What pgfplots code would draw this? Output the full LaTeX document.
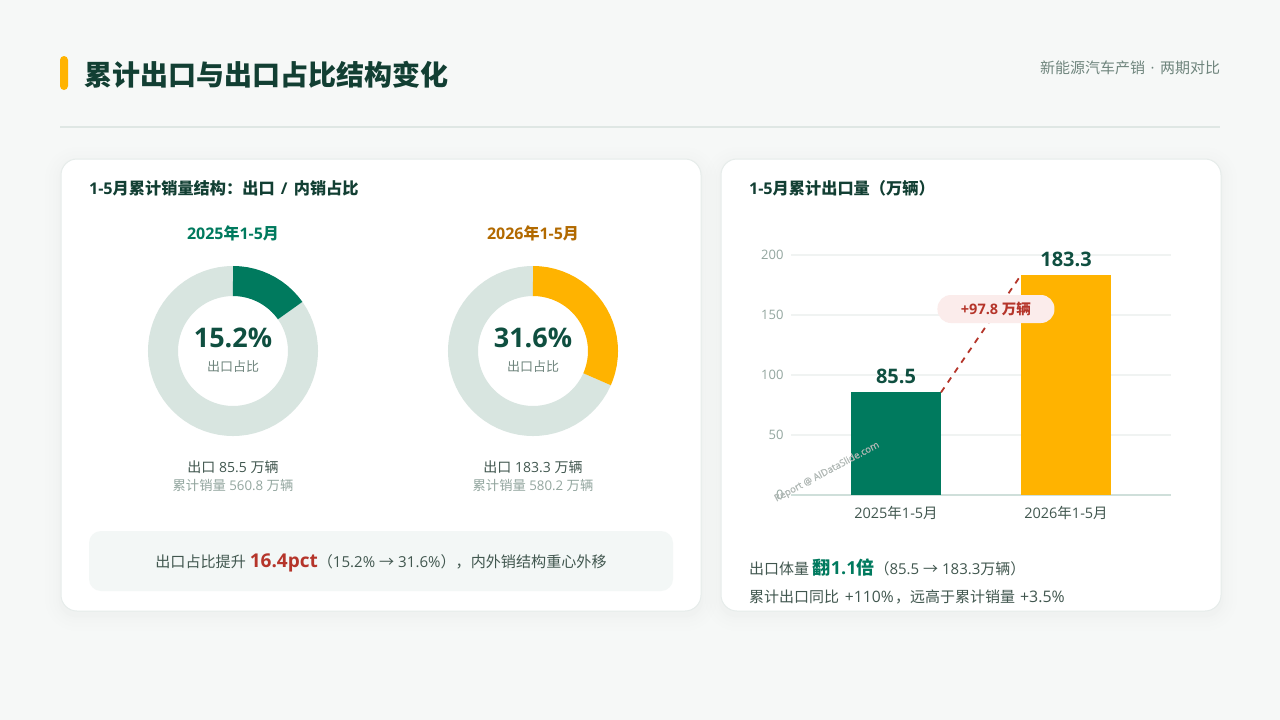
\documentclass[border=0pt]{standalone}
\usepackage{fontspec}
\usepackage{pgfplots}
\pgfplotsset{compat=1.18}
\setmainfont{Open Sans}
\newfontfamily\cj{Noto Sans CJK SC}
\newfontfamily\wm[FakeBold=1.2]{Open Sans}
\newcommand\fs[1]{\fontsize{#1}{#1}\selectfont}
\newcommand\FC{^^^^ff1a}% fullwidth colon
\newcommand\FL{^^^^ff08}% fullwidth left paren
\newcommand\FR{^^^^ff09}% fullwidth right paren
\newcommand\FK{^^^^ff0c}% fullwidth comma
\definecolor{bgc}{HTML}{F6F8F7}
\definecolor{ink}{HTML}{123F33}
\definecolor{inkb}{HTML}{0F4F40}
\definecolor{body}{HTML}{41574F}
\definecolor{muted}{HTML}{6F857D}
\definecolor{faint}{HTML}{93A69F}
\definecolor{grn}{HTML}{007A5E}
\definecolor{amb}{HTML}{FFB300}
\definecolor{ambt}{HTML}{B26A00}
\definecolor{ring}{HTML}{D8E5E0}
\definecolor{rul}{HTML}{DFE7E4}
\definecolor{brd}{HTML}{E6ECEA}
\definecolor{callbg}{HTML}{F3F7F6}
\definecolor{redd}{HTML}{B5352A}
\definecolor{pill}{HTML}{FBECEB}
\definecolor{gridc}{HTML}{F0F3F2}
\definecolor{base}{HTML}{CFDFDA}
\definecolor{wmc}{HTML}{B0B8B5}
\pgfplotsset{donut/.style={
  width=180pt,height=180pt,scale only axis,hide axis,clip=false,
  xmin=-90,xmax=90,ymin=-90,ymax=90,anchor=center},
  seg/.style={data cs=polar,no marks,line width=30pt,line cap=butt,line join=miter}}
\begin{document}
\begin{tikzpicture}
\useasboundingbox (0pt,-720pt) rectangle (1280pt,0pt);
\begin{scope}[x=1pt,y=-1pt]
\fill[bgc] (0,0) rectangle (1280,720);
\fill[amb,rounded corners=4] (60,56) rectangle (68,90);
\fill[rul] (60,126) rectangle (1220,128);
\foreach \a/\b in {61/701,721/1221}{
  \foreach \g/\o in {16/0.004,12/0.004,8/0.005,5/0.005,2.5/0.006}
    \fill[black,opacity=\o,rounded corners=16+\g] (\a-\g,159-\g+4) rectangle (\b+\g,611+\g+4);
  \filldraw[fill=white,draw=brd,line width=1pt,rounded corners=16] (\a,159) rectangle (\b,611);
}
\fill[callbg,rounded corners=12] (89,531) rectangle (673,591);
\end{scope}

% donut 2025: export share 15.2% = 54.72 deg clockwise from the top
\begin{axis}[donut,at={(233pt,-351pt)}]
\addplot[seg,ring] coordinates {(35.28,70)(34.8,70)(30,70)(25,70)(20,70)(15,70)(10,70)(5,70)(0,70)(-5,70)(-10,70)(-15,70)(-20,70)(-25,70)(-30,70)(-35,70)(-40,70)(-45,70)(-50,70)(-55,70)(-60,70)(-65,70)(-70,70)(-75,70)(-80,70)(-85,70)(-90,70)(-95,70)(-100,70)(-105,70)(-110,70)(-115,70)(-120,70)(-125,70)(-130,70)(-135,70)(-140,70)(-145,70)(-150,70)(-155,70)(-160,70)(-165,70)(-170,70)(-175,70)(-180,70)(-185,70)(-190,70)(-195,70)(-200,70)(-205,70)(-210,70)(-215,70)(-220,70)(-225,70)(-230,70)(-235,70)(-240,70)(-245,70)(-250,70)(-255,70)(-260,70)(-265,70)(-269.5,70)(-270,70)};
\addplot[seg,grn] coordinates {(90,70)(89.5,70)(85,70)(80,70)(75,70)(70,70)(65,70)(60,70)(55,70)(50,70)(45,70)(40,70)(35.8,70)(35.28,70)};
\end{axis}

% donut 2026: export share 31.6% = 113.76 deg clockwise from the top
\begin{axis}[donut,at={(533pt,-351pt)}]
\addplot[seg,ring] coordinates {(-23.76,70)(-24.2,70)(-30,70)(-35,70)(-40,70)(-45,70)(-50,70)(-55,70)(-60,70)(-65,70)(-70,70)(-75,70)(-80,70)(-85,70)(-90,70)(-95,70)(-100,70)(-105,70)(-110,70)(-115,70)(-120,70)(-125,70)(-130,70)(-135,70)(-140,70)(-145,70)(-150,70)(-155,70)(-160,70)(-165,70)(-170,70)(-175,70)(-180,70)(-185,70)(-190,70)(-195,70)(-200,70)(-205,70)(-210,70)(-215,70)(-220,70)(-225,70)(-230,70)(-235,70)(-240,70)(-245,70)(-250,70)(-255,70)(-260,70)(-265,70)(-269.5,70)(-270,70)};
\addplot[seg,amb] coordinates {(90,70)(89.5,70)(85,70)(80,70)(75,70)(70,70)(65,70)(60,70)(55,70)(50,70)(45,70)(40,70)(35,70)(30,70)(25,70)(20,70)(15,70)(10,70)(5,70)(0,70)(-5,70)(-10,70)(-15,70)(-20,70)(-23.3,70)(-23.76,70)};
\end{axis}

% bar chart
\begin{axis}[at={(791pt,-495pt)},anchor=south west,
  width=380pt,height=240pt,scale only axis,clip=false,
  xmin=-0.6176,xmax=1.6176,ymin=0,ymax=200,
  ybar,bar width=90pt,
  axis x line=bottom,axis y line=left,
  x axis line style={draw=base,line width=2pt,-},
  y axis line style={draw=none},
  xtick={0,1},xticklabels={{2025{\cj 年}1-5{\cj 月}},{2026{\cj 年}1-5{\cj 月}}},
  ytick={0,50,100,150,200},
  major tick length=0pt,
  ymajorgrids,grid style={draw=gridc,line width=2pt},
  xticklabel style={font=\fs{14.5},text=body,yshift=-8pt},
  yticklabel style={font=\fs{13},text=faint,xshift=-4pt,/pgf/number format/assume math mode=true},
]
\addplot[fill=grn,draw=none,bar shift=0pt,
  nodes near coords={\pgfmathprintnumber[fixed,precision=1,fixed zerofill,assume math mode=true]{\pgfplotspointmeta}},
  every node near coord/.append style={font=\bfseries\fs{20},text=inkb,yshift=5pt}] coordinates {(0,85.5)};
\addplot[fill=amb,draw=none,bar shift=0pt,
  nodes near coords={\pgfmathprintnumber[fixed,precision=1,fixed zerofill,assume math mode=true]{\pgfplotspointmeta}},
  every node near coord/.append style={font=\bfseries\fs{20},text=inkb,yshift=5pt}] coordinates {(1,183.3)};
\addplot[sharp plot,no marks,draw=redd,line width=1.8pt,dash pattern=on 6pt off 6pt] coordinates {(0.2647,85.5)(0.7353,183.3)};
\node[fill=pill,rounded corners=13.5pt,minimum width=117pt,minimum height=28pt,inner sep=0pt,text=redd,font=\bfseries\fs{14.5}] at (axis cs:0.588,155) {+97.8 {\cj 万辆}};
\end{axis}

\begin{scope}[x=1pt,y=-1pt,every node/.style={inner sep=0pt,outer sep=0pt}]
\node[anchor=base west,text=ink,font=\bfseries\fs{28}] at (84,85) {\cj 累计出口与出口占比结构变化};
\node[anchor=base east,text=muted,font=\fs{15}] at (1220,73) {{\cj 新能源汽车产销}\kern1.5pt\ ·\ \kern1.5pt{\cj 两期对比}};
\node[anchor=base west,text=ink,font=\bfseries\fs{16.2}] at (89,194) {1-5{\cj 月累计销量结构\FC 出口}\kern2pt\ /\ \kern2pt{\cj 内销占比}};
\node[anchor=base west,text=ink,font=\bfseries\fs{16.2}] at (749,194) {1-5{\cj 月累计出口量\FL 万辆\FR}};
\node[anchor=base,text=grn,font=\bfseries\fs{16}] at (233,239) {2025{\cj 年}1-5{\cj 月}};
\node[anchor=base,text=ambt,font=\bfseries\fs{16}] at (533,239) {2026{\cj 年}1-5{\cj 月}};
\node[anchor=base,text=inkb,font=\bfseries\fs{27}] at (233,347) {15.2\%};
\node[anchor=base,text=inkb,font=\bfseries\fs{27}] at (533,347) {31.6\%};
\node[anchor=base,text=muted,font=\fs{13}] at (233,371.5) {\cj 出口占比};
\node[anchor=base,text=muted,font=\fs{13}] at (533,371.5) {\cj 出口占比};
\node[anchor=base,text=body,font=\fs{14}] at (233,472) {{\cj 出口} 85.5 {\cj 万辆}};
\node[anchor=base,text=faint,font=\fs{13.3}] at (233,490) {{\cj 累计销量} 560.8 {\cj 万辆}};
\node[anchor=base,text=body,font=\fs{14}] at (533,472) {{\cj 出口} 183.3 {\cj 万辆}};
\node[anchor=base,text=faint,font=\fs{13.3}] at (533,490) {{\cj 累计销量} 580.2 {\cj 万辆}};
\node[anchor=base,text=body,font=\fs{15.1}] at (381,567) {{\cj 出口占比提升} {\color{redd}\bfseries\fs{19}16.4pct}{\cj \FL}15.2\% {\cj →} 31.6\%{\cj \FR\FK 内外销结构重心外移}};
\node[anchor=base west,text=body,font=\fs{15}] at (749,574) {{\cj 出口体量} {\color{grn}\bfseries\fs{18}{\cj 翻}1.1{\cj 倍}}{\cj \FL}85.5 {\cj →} 183.3{\cj 万辆\FR}};
\node[anchor=base west,text=body,font=\fs{15}] at (749,602) {{\cj 累计出口同比}\kern2pt\ {\fs{15.7}+110\%}\kern1.5pt{\cj \FK 远高于累计销量}\kern1pt\ {\fs{15.9}+3.5\%}};
\node[text=wmc,font=\wm\fs{9.6},rotate=28] at (827,472) {Report @ AIDataSlide.com};
\end{scope}
\end{tikzpicture}
\end{document}
